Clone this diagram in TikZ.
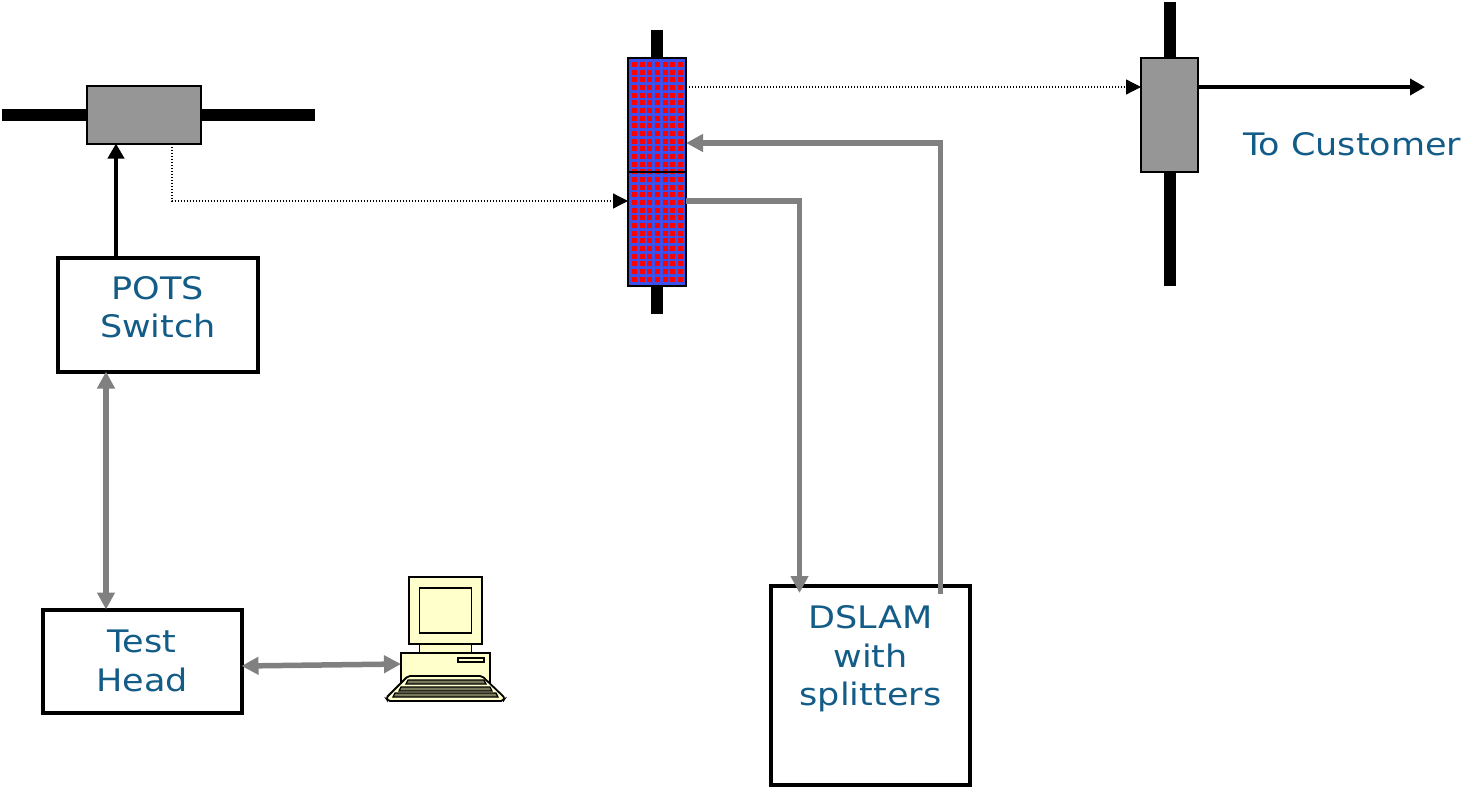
\documentclass[tikz,border=0pt]{standalone}
\usepackage{fontspec}
\setmainfont[FakeStretch=1.13]{DejaVu Sans}
\usepackage{tikz}
\usetikzlibrary{
    arrows.meta,
    positioning
}
\definecolor{linkblue}{RGB}{18,92,135}
\definecolor{boxgray}{RGB}{150,150,150}
\definecolor{linkgray}{RGB}{128,128,128}
\definecolor{gridblue}{RGB}{60,80,235}
\definecolor{gridred}{RGB}{255,0,0}
\definecolor{pccream}{RGB}{255,255,204}
\definecolor{pckeys}{RGB}{120,120,90}

\begin{document}
\begin{tikzpicture}[
    x=1pt,
    y=-1pt,
    textbox/.style={
        draw=black,
        line width=4pt,
        fill=white,
        align=center,
        text=linkblue,
        font=\fontsize{31}{38.5}\selectfont,
        outer sep=0pt,
        inner sep=0pt
    },
    splitter/.style={
        draw=black,
        line width=2pt,
        fill=boxgray,
        outer sep=0pt,
        inner sep=0pt
    },
    gridbox/.style={
        draw=black,
        line width=2pt,
        fill=gridblue,
        minimum width=58pt,
        minimum height=114pt,
        outer sep=0pt,
        inner sep=0pt
    },
    pcpart/.style={
        draw=black,
        line width=1.8pt,
        fill=pccream,
        outer sep=0pt,
        inner sep=0pt
    },
    busbar/.style={
        line width=12pt,
        draw=black
    },
    blackarrow/.style={
        -{Triangle[length=15pt,width=16pt]},
        line width=4pt,
        draw=black
    },
    dotarrow/.style={
        -{Triangle[length=15pt,width=15pt]},
        line width=1.2pt,
        dash pattern=on 1.2pt off 1.8pt,
        draw=black
    },
    grayarrow/.style={
        -{Triangle[length=17pt,width=17pt]},
        line width=5.5pt,
        draw=linkgray
    },
    bothgray/.style={
        {Triangle[length=17pt,width=17pt]}-{Triangle[length=17pt,width=17pt]},
        line width=5.5pt,
        draw=linkgray
    }
]
\useasboundingbox (0,0) rectangle (1463,789);

% splitter on the exchange side
\node[splitter, minimum width=114pt, minimum height=57pt] (linesplit) at (144,115) {};
\coordinate[left=85pt of linesplit.west] (lineleft);
\coordinate[right=114pt of linesplit.east] (lineright);

% boxes
\node[
    textbox,
    minimum width=200pt,
    minimum height=114pt,
    below=114pt of linesplit,
    xshift=14pt
] (pots) {POTS\\Switch\\[-23.5pt]\mbox{}};

\node[
    textbox,
    minimum width=199pt,
    minimum height=103pt,
    below=238pt of pots,
    xshift=-16pt
] (testhead) {Test\\Head};

% frame in the middle
\node[gridbox] (frametop) at (657,115) {};
\node[gridbox, below=0pt of frametop] (framebot) {};
\foreach \col in {0,...,6}{
    \foreach \row in {0,...,28}{
        \fill[gridred] (632+\col*7.67,62+\row*7.67) rectangle ++(5,5);
    }
}
\draw[line width=2pt] (frametop.south west) -- (frametop.south east);
\coordinate[above=28pt of frametop.north] (frameup);
\coordinate[below=28pt of framebot.south] (framedown);

% splitter on the customer side
\node[
    splitter,
    minimum width=57pt,
    minimum height=114pt,
    right=455pt of frametop
] (custsplit) {};
\coordinate[above=56pt of custsplit.north] (custup);
\coordinate[below=114pt of custsplit.south] (custdown);
\coordinate[right=227pt of custsplit.east, yshift=28pt] (custend);

\node[
    text=linkblue,
    font=\fontsize{31}{38.5}\selectfont,
    inner sep=0pt,
    right=45pt of custsplit,
    yshift=-29pt
] (customer) {To Customer};

\node[
    textbox,
    minimum width=199pt,
    minimum height=199pt
] (dslam) at (870.5,685.5) {DSLAM\\with\\splitters\\[21pt]\mbox{}};

% computer
\node[pcpart, minimum width=73pt, minimum height=67pt] (pcmonitor) at (445.5,610.5) {};
\node[pcpart, minimum width=52pt, minimum height=45pt] (pcscreen) at (pcmonitor) {};
\node[pcpart, minimum width=52pt, minimum height=9pt, below=0pt of pcmonitor] (pcneck) {};
\node[pcpart, minimum width=89pt, minimum height=29pt, below=0pt of pcneck] (pccase) {};
\node[pcpart, minimum width=26pt, minimum height=4pt] (pcslot) at (471,660) {};
\draw[pcpart, rounded corners=2pt] (408,676) -- (482,676) -- (505,698) -- (503,701) -- (388,701) -- (386,698) -- cycle;
\foreach \ky/\kl/\kr in {682/408/484, 689/401/490, 695/395/496}{
    \draw[pcpart, line width=1.2pt, fill=pckeys] (\kl,\ky-2) -- (\kr,\ky-2) -- (\kr+2,\ky+2) -- (\kl-2,\ky+2) -- cycle;
}

% bars
\draw[busbar] (linesplit.west) -- (lineleft);
\draw[busbar] (linesplit.east) -- (lineright);
\draw[busbar] (frametop.north) -- (frameup);
\draw[busbar] (framebot.south) -- (framedown);
\draw[busbar] (custsplit.north) -- (custup);
\draw[busbar] (custsplit.south) -- (custdown);

% links
\draw[blackarrow] ([xshift=-42pt]pots.north) -- ([xshift=-28pt]linesplit.south);
\draw[blackarrow] ([yshift=28pt]custsplit.east) -- (custend);
\draw[dotarrow] ([xshift=28pt]linesplit.south) |- ([yshift=28pt]framebot.west);
\draw[dotarrow] ([yshift=28pt]frametop.east) -- ([yshift=28pt]custsplit.west);
\draw[grayarrow] ([xshift=70pt,yshift=-8pt]dslam.north) |- ([yshift=-28pt]frametop.east);
\draw[grayarrow] ([yshift=28pt]framebot.east) -- (799.5,201) -- ([xshift=-71pt,yshift=-7pt]dslam.north);
\draw[bothgray] ([xshift=-52pt]pots.south) -- ([xshift=-36pt]testhead.north);
\draw[bothgray] ([yshift=-5pt]testhead.east) -- ([yshift=3.5pt]pccase.west);

\end{tikzpicture}
\end{document}
